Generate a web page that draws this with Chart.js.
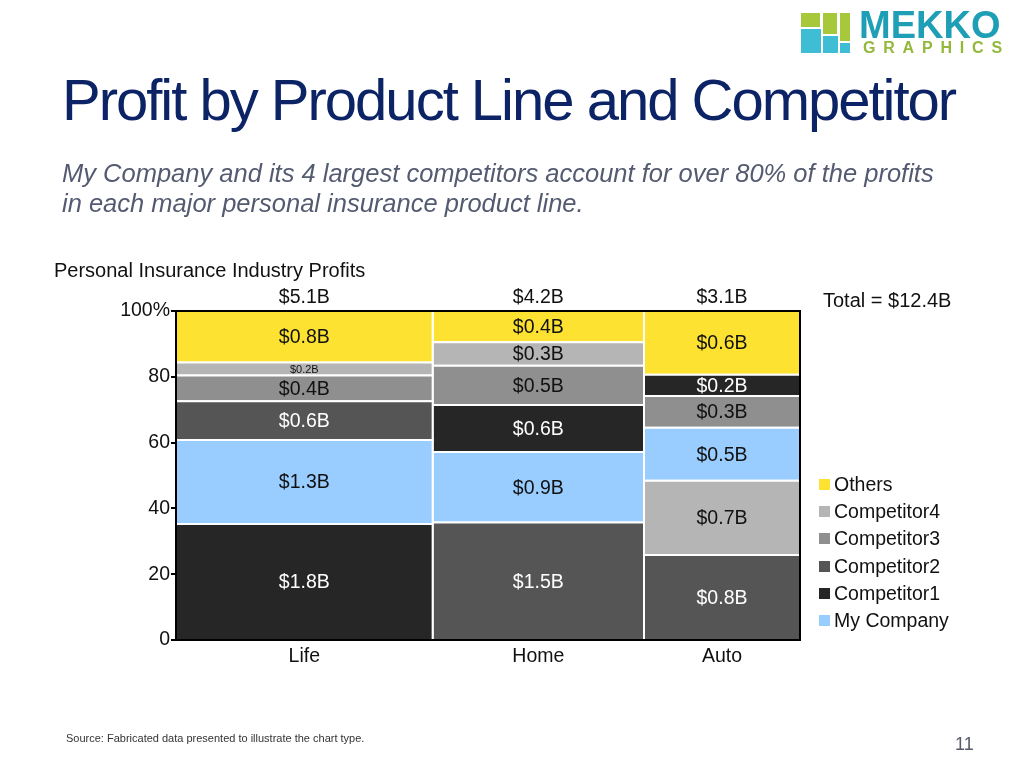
<!DOCTYPE html>
<html>
<head>
<meta charset="utf-8">
<script src="https://cdn.jsdelivr.net/npm/chart.js@4/dist/chart.umd.min.js"></script>
<style>
  html, body { margin: 0; padding: 0; background: #fff; }
  body { width: 1024px; height: 768px; position: relative; overflow: hidden; font-family: 'Liberation Sans', Arial, Helvetica, sans-serif; }
  .abs { position: absolute; white-space: nowrap; }
  #title { left: 62px; top: 71px; font-size: 58px; line-height: 1; letter-spacing: -2px; color: #0c2366; font-style: normal; font-weight: normal; }
  #sub { left: 62px; top: 158px; font-size: 25.5px; line-height: 30px; font-style: italic; color: #545a70; }
  #ctitle { left: 54px; top: 259px; font-size: 20px; line-height: 22px; color: #111; }
  #total { left: 823px; top: 289px; font-size: 20px; line-height: 22px; color: #111; }
  #legend { left: 819px; top: 473px; }
  .li { position: relative; height: 27.2px; font-size: 19.5px; line-height: 22px; color: #111; }
  .li span.sw { position: absolute; left: 0; top: 6px; width: 11px; height: 11px; }
  .li span.tx { position: absolute; left: 15px; top: 0; }
  #source { left: 66px; top: 731px; font-size: 11px; line-height: 14px; color: #333; }
  #page { left: 955px; top: 734px; font-size: 18px; line-height: 20px; color: #555b6b; }
  #chart { position: absolute; left: 0; top: 0; }
  .lg { position: absolute; }
  #mekko { left: 859px; top: 6px; font-size: 38px; line-height: 38px; font-weight: bold; color: #1e9fb5; }
  #graphics { left: 863px; top: 39px; font-size: 16px; line-height: 18px; font-weight: bold; color: #93b83c; letter-spacing: 7.8px; }
</style>
</head>
<body>
<canvas id="chart" width="1024" height="768"></canvas>

<div class="lg" style="left:801px;top:13px;width:19px;height:14px;background:#a6c83a"></div>
<div class="lg" style="left:823px;top:13px;width:14px;height:21px;background:#a6c83a"></div>
<div class="lg" style="left:840px;top:13px;width:10px;height:28px;background:#a6c83a"></div>
<div class="lg" style="left:801px;top:29px;width:20px;height:24px;background:#3fbdd4"></div>
<div class="lg" style="left:823px;top:36px;width:15px;height:17px;background:#3fbdd4"></div>
<div class="lg" style="left:840px;top:43px;width:10px;height:10px;background:#3fbdd4"></div>
<div class="abs" id="mekko">MEKKO</div>
<div class="abs" id="graphics">GRAPHICS</div>

<div class="abs" id="title">Profit by Product Line and Competitor</div>
<div class="abs" id="sub">My Company and its 4 largest competitors account for over 80% of the profits<br>in each major personal insurance product line.</div>
<div class="abs" id="ctitle">Personal Insurance Industry Profits</div>
<div class="abs" id="total"></div>
<div class="abs" id="legend"></div>
<div class="abs" id="source">Source: Fabricated data presented to illustrate the chart type.</div>
<div class="abs" id="page">11</div>

<script>
// ---- Data ----
const categories = ['Life', 'Home', 'Auto'];
const seriesNames = ['My Company', 'Competitor1', 'Competitor2', 'Competitor3', 'Competitor4', 'Others'];
const myCompany   = [1.3, 0.9, 0.5];
const competitor1 = [1.8, 0.6, 0.2];
const competitor2 = [0.6, 1.5, 0.8];
const competitor3 = [0.4, 0.5, 0.3];
const competitor4 = [0.2, 0.3, 0.7];
const others      = [0.8, 0.4, 0.6];
const yTicks = [0, 20, 40, 60, 80, 100];

// ---- Styles ----
const seriesColors = ['#99ccff', '#262626', '#555555', '#8f8f8f', '#b5b5b5', '#fde232'];
const labelColors  = ['#111', '#fff', '#fff', '#111', '#111', '#111'];
const FONT = "'Liberation Sans', Arial, Helvetica, sans-serif";

const seriesValues = [myCompany, competitor1, competitor2, competitor3, competitor4, others];
const totals = categories.map((_, j) => Math.round(seriesValues.reduce((s, arr) => s + arr[j], 0) * 10) / 10);
const grand = Math.round(totals.reduce((a, b) => a + b, 0) * 10) / 10;
const starts = [];
let acc = 0;
totals.forEach(t => { starts.push(acc); acc += t; });
const centers = totals.map((t, j) => starts[j] + t / 2);

const fmt = v => '$' + v.toFixed(1) + 'B';
document.getElementById('total').textContent = 'Total = ' + fmt(grand);

// Legend (top to bottom: Others ... My Company)
const legendEl = document.getElementById('legend');
for (let s = seriesNames.length - 1; s >= 0; s--) {
  const d = document.createElement('div');
  d.className = 'li';
  d.innerHTML = '<span class="sw" style="background:' + seriesColors[s] + '"></span><span class="tx">' + seriesNames[s] + '</span>';
  legendEl.appendChild(d);
}

// Segments: per column, series sorted by size (largest at bottom), Others on top
const segments = [];
categories.forEach((cat, j) => {
  const order = [0, 1, 2, 3, 4].sort((a, b) => seriesValues[b][j] - seriesValues[a][j]);
  order.push(5);
  let cum = 0;
  order.forEach(s => {
    const v = seriesValues[s][j];
    const y0 = cum / totals[j] * 100;
    cum += v;
    const y1 = Math.min(100, cum / totals[j] * 100);
    segments.push({ s, j, v, x0: starts[j], x1: starts[j] + totals[j], y0, y1 });
  });
});

const datasets = segments.map(g => ({
  label: seriesNames[g.s] + ' - ' + categories[g.j],
  data: [
    { x: g.x0, y: g.y0 }, { x: g.x1, y: g.y0 }, { x: g.x1, y: g.y1 },
    { x: g.x0, y: g.y1 }, { x: g.x0, y: g.y0 }
  ],
  backgroundColor: seriesColors[g.s],
  borderColor: '#ffffff',
  borderWidth: 2,
  fill: 'shape',
  pointRadius: 0,
  pointHoverRadius: 0,
  tension: 0,
  clip: 0
}));

const framePlugin = {
  id: 'frame',
  afterDatasetsDraw(chart) {
    const { ctx, chartArea: a } = chart;
    ctx.save();
    ctx.strokeStyle = '#000';
    ctx.lineWidth = 2;
    ctx.strokeRect(a.left, a.top, a.right - a.left, a.bottom - a.top);
    ctx.restore();
  }
};

const labelPlugin = {
  id: 'segLabels',
  afterDatasetsDraw(chart) {
    const { ctx } = chart;
    const xs = chart.scales.x, ys = chart.scales.y;
    ctx.save();
    ctx.textAlign = 'center';
    ctx.textBaseline = 'middle';
    segments.forEach(g => {
      const cx = xs.getPixelForValue((g.x0 + g.x1) / 2);
      const top = ys.getPixelForValue(g.y1), bot = ys.getPixelForValue(g.y0);
      const h = bot - top;
      ctx.font = (h < 20 ? 11 : 19.5) + 'px ' + FONT;
      ctx.fillStyle = labelColors[g.s];
      ctx.fillText(fmt(g.v), cx, (top + bot) / 2 + 1);
    });
    ctx.restore();
  }
};

Chart.defaults.font.family = FONT;

new Chart(document.getElementById('chart'), {
  type: 'line',
  data: { datasets },
  plugins: [framePlugin, labelPlugin],
  options: {
    responsive: false,
    animation: false,
    events: [],
    layout: { padding: { left: 116, right: 224, top: 281, bottom: 98 } },
    plugins: { legend: { display: false }, tooltip: { enabled: false } },
    scales: {
      x: {
        type: 'linear', position: 'bottom', min: 0, max: grand,
        afterBuildTicks: sc => { sc.ticks = centers.map(v => ({ value: v })); },
        afterFit: sc => { sc.height = 30; },
        grid: { display: false, drawTicks: false },
        border: { display: false },
        ticks: { autoSkip: false, maxRotation: 0, padding: 5, color: '#111', font: { size: 19.5 },
                 callback: (v, i) => categories[i] }
      },
      xTop: {
        type: 'linear', position: 'top', min: 0, max: grand,
        afterBuildTicks: sc => { sc.ticks = centers.map(v => ({ value: v })); },
        afterFit: sc => { sc.height = 30; },
        grid: { display: false, drawTicks: false },
        border: { display: false },
        ticks: { autoSkip: false, maxRotation: 0, padding: 2, color: '#111', font: { size: 19.5 },
                 callback: (v, i) => fmt(totals[i]) }
      },
      y: {
        type: 'linear', min: 0, max: 100,
        afterBuildTicks: sc => { sc.ticks = yTicks.map(v => ({ value: v })); },
        afterFit: sc => { sc.width = 60; },
        grid: { display: true, drawOnChartArea: false, drawTicks: true, tickLength: 5, color: '#000', lineWidth: 2 },
        border: { display: false },
        ticks: { padding: 1, color: '#111', font: { size: 19.5 },
                 callback: v => v === 100 ? '100%' : String(v) }
      }
    }
  }
});
</script>
</body>
</html>
